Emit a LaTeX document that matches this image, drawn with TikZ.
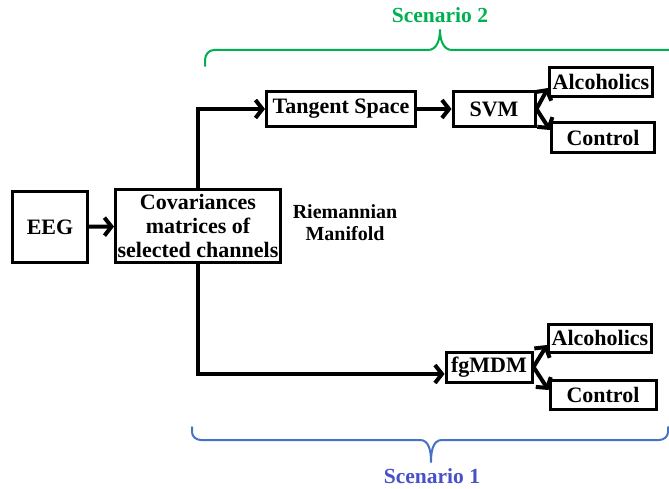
\documentclass[tikz,border=0pt]{standalone}
\usepackage{fontspec}
\setmainfont{Liberation Serif}
\usetikzlibrary{arrows.meta}
\definecolor{sgreen}{RGB}{0,176,80}
\definecolor{sblue}{RGB}{68,114,196}
\definecolor{stext}{RGB}{70,80,200}

\begin{document}
\begin{tikzpicture}[x=1pt,y=-1pt,line cap=round]
	\tikzstyle{kuang}=[draw,line width=3pt,inner sep=0pt,font=\fontsize{22}{24}\selectfont\bfseries];
	\tikzstyle{jian}=[line width=4pt,-{Straight Barb[length=7pt,width=18pt]}];
	\tikzstyle{kuohao}=[line width=2pt,line join=round];

	\useasboundingbox (0,0) rectangle (669,489);

	\node[kuang,minimum width=75,minimum height=70] (eeg) at (50,227) {EEG};
	\node[kuang,minimum width=165,minimum height=72,align=center] (cov) at (198,226) {Covariances\\matrices of\\selected channels};
	\node[font=\fontsize{20}{22}\selectfont\bfseries,align=center] (rm) at (345,223) {Riemannian\\Manifold};
	\node[kuang,minimum width=149,minimum height=35] (ts) at (341,109) {Tangent Space};
	\node[kuang,minimum width=82,minimum height=35] (svm) at (494,109) {SVM};
	\node[kuang,minimum width=103,minimum height=29] (alc1) at (601,82) {Alcoholics};
	\node[kuang,minimum width=103,minimum height=30] (con1) at (603,138) {Control};
	\node[kuang,minimum width=86,minimum height=30] (mdm) at (489,367) {fgMDM};
	\node[kuang,minimum width=103,minimum height=28] (alc2) at (600,338) {Alcoholics};
	\node[kuang,minimum width=106,minimum height=29] (con2) at (603,395) {Control};

	\draw[jian] (eeg) -- (cov);
	\draw[jian] (cov.north) |- (ts);
	\draw[jian] (cov.south) |- ([yshift=-7pt]mdm.west);
	\draw[jian] (ts) -- (svm);
	\draw[jian] (svm.east) -- ([yshift=-6pt]alc1.west);
	\draw[jian] (svm.east) -- ([yshift=8pt]con1.west);
	\draw[jian] (mdm.east) -- ([yshift=-7pt]alc2.west);
	\draw[jian] (mdm.east) -- ([yshift=5pt]con2.west);

	% braces
	\draw[kuohao,sgreen] (205,66) -- (205,60) to[out=90,in=180] (214,50) -- (428,50)
		to[out=0,in=-90] (440,30) to[out=-90,in=180] (452,50) -- (680,50);
	\draw[kuohao,sblue] (192,427) -- (192,432) to[out=-90,in=180] (201,440) -- (420,440)
		to[out=0,in=90] (431,462) to[out=90,in=180] (442,440) -- (659,440)
		to[out=0,in=-90] (668,432) -- (668,427);
	\node[text=sgreen,font=\fontsize{21.5}{24}\selectfont\bfseries] (s2) at (440,15) {Scenario 2};
	\node[text=stext,font=\fontsize{21.5}{24}\selectfont\bfseries] (s1) at (432,476) {Scenario 1};
\end{tikzpicture}
\end{document}
